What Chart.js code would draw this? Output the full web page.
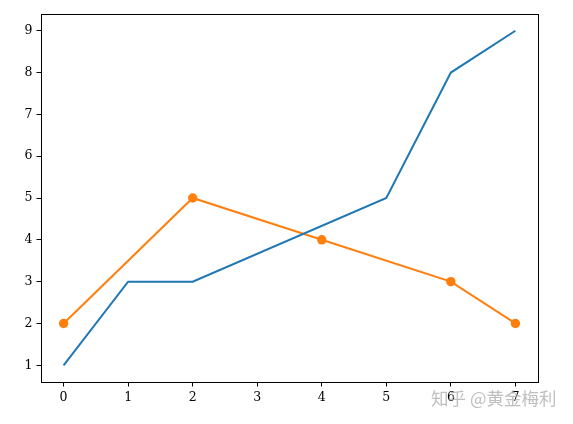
<!DOCTYPE html>
<html><head><meta charset="utf-8">
<script src="https://cdn.jsdelivr.net/npm/chart.js@4"></script>
<style>
html,body{margin:0;padding:0;background:#fff;}
#wrap{position:relative;width:573px;height:424px;}
#wm{position:absolute;left:431px;top:385px;font-family:"Noto Sans CJK SC";font-size:17.5px;color:rgba(170,170,170,0.75);white-space:nowrap;}
</style></head>
<body>
<div id="wrap"><canvas id="c" width="573" height="424"></canvas><div id="wm">知乎 @黄金梅利</div></div>
<script>
const blueX = [0, 1, 2, 5, 6, 7];
const blueY = [1, 3, 3, 5, 8, 9];
const orangeX = [0, 2, 4, 6, 7];
const orangeY = [2, 5, 4, 3, 2];
const xTicks = [0, 1, 2, 3, 4, 5, 6, 7];
const yTicks = [1, 2, 3, 4, 5, 6, 7, 8, 9];

const font = {family: "DejaVu Serif", size: 12.5};
new Chart(document.getElementById('c'), {
  type: 'line',
  data: {
    datasets: [
      {data: blueX.map((x,i)=>({x, y: blueY[i]})), borderColor: '#1f77b4', backgroundColor:'#1f77b4', borderWidth: 2, pointRadius: 0, tension: 0},
      {data: orangeX.map((x,i)=>({x, y: orangeY[i]})), borderColor: '#ff7f0e', backgroundColor:'#ff7f0e', borderWidth: 2, pointRadius: 4.7, pointBorderWidth: 0, tension: 0}
    ]
  },
  options: {
    responsive: false, animation: false,
    layout: {padding: {top: 14, right: 35, left: 0, bottom: 0}},
    plugins: {legend: {display: false}, tooltip: {enabled: false}},
    scales: {
      x: {
        type: 'linear', min: -0.35, max: 7.35,
        afterBuildTicks: s => { s.ticks = xTicks.map(v => ({value: v})); },
        afterFit: s => { s.height = 42; },
        ticks: {font, color: '#000', padding: 4, callback: v => String(v)},
        grid: {drawOnChartArea: false, tickLength: 4.5, tickColor: '#000', tickWidth: 1},
        border: {color: '#000', width: 1}
      },
      y: {
        type: 'linear', min: 0.6, max: 9.4,
        afterBuildTicks: s => { s.ticks = yTicks.map(v => ({value: v})); },
        afterFit: s => { s.width = 41; },
        ticks: {font, color: '#000', padding: 4, callback: v => String(v)},
        grid: {drawOnChartArea: false, tickLength: 4.5, tickColor: '#000', tickWidth: 1},
        border: {color: '#000', width: 1}
      }
    }
  },
  plugins: [{
    id: 'frame',
    afterDraw(chart) {
      const {ctx, chartArea: a} = chart;
      ctx.save(); ctx.strokeStyle = '#000'; ctx.lineWidth = 1;
      ctx.strokeRect(a.left + 0.5, a.top + 0.5, a.right - a.left, a.bottom - a.top);
      ctx.restore();
    }
  }]
});
</script>
</body></html>
